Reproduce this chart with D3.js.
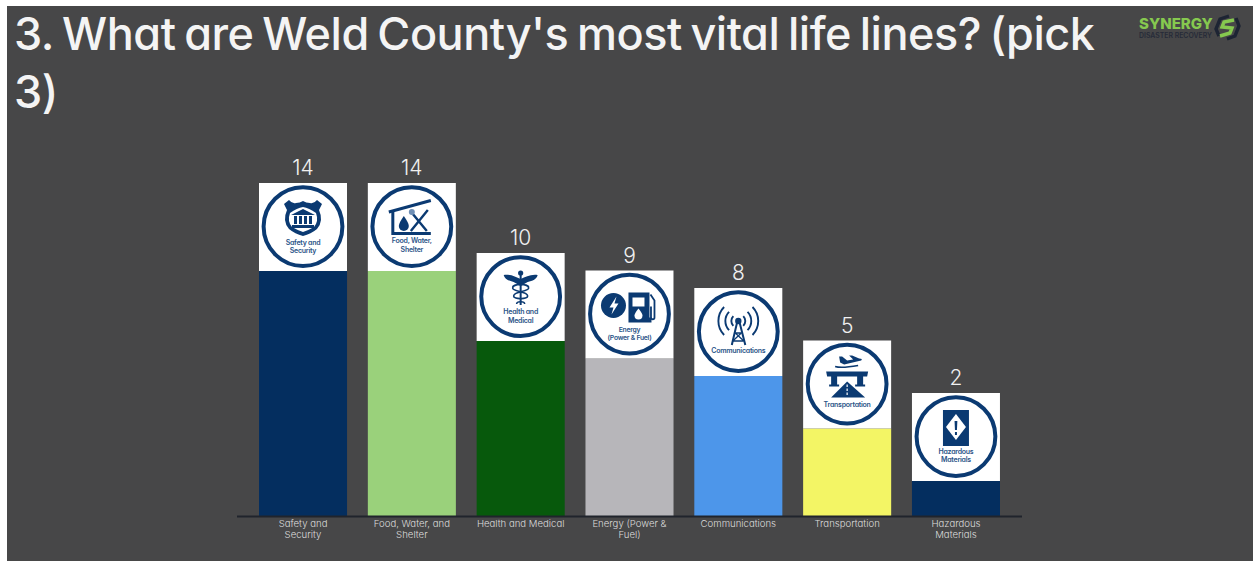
<!DOCTYPE html>
<html>
<head>
<meta charset="utf-8">
<script src="https://cdn.jsdelivr.net/npm/d3@7"></script>
<style>
html,body{margin:0;padding:0;background:#fff}
svg{display:block}
text{font-family:Inter,"Noto Sans",sans-serif;font-feature-settings:"cv11" 1}
</style>
</head>
<body>
<div id="chart"></div>
<script>
// Poll results
const titleLines = ["3. What are Weld County's most vital life lines? (pick", "3)"];
const categories = ["Safety and Security", "Food, Water, and Shelter", "Health and Medical", "Energy (Power & Fuel)", "Communications", "Transportation", "Hazardous Materials"];
const categoryLines = [["Safety and", "Security"], ["Food, Water, and", "Shelter"], ["Health and Medical"], ["Energy (Power &", "Fuel)"], ["Communications"], ["Transportation"], ["Hazardous", "Materials"]];
const values = [14, 14, 10, 9, 8, 5, 2];
const barColors = ["#042e5f", "#9ad17b", "#07590c", "#b7b6ba", "#4d96ea", "#f3f565", "#042e5f"];
const iconCaptions = [["Safety and", "Security"], ["Food, Water,", "Shelter"], ["Health and", "Medical"], ["Energy", "(Power & Fuel)"], ["Communications"], ["Transportation"], ["Hazardous", "Materials"]];

const W = 1253, H = 561, NAVY = "#0b3a72", ICON = 88;

const svg = d3.select("#chart").append("svg").attr("width", W).attr("height", H);
svg.append("rect").attr("x", 7).attr("y", 6).attr("width", W - 7).attr("height", H - 6).attr("fill", "#474748");

svg.append("g").selectAll("text").data(titleLines).join("text")
  .attr("x", 14).attr("y", (d, i) => 50 + i * 58)
  .attr("fill", "#f4f4f4").attr("font-size", 45).attr("font-weight", 500)
  .attr("letter-spacing", -0.45).attr("word-spacing", -3)
  .text(d => d);

// Scales
const x = d3.scaleBand().domain(categories).range([259, 1000]).paddingInner(0.191);
const y = d3.scaleLinear().domain([0, 14]).range([516, 271]);

const bars = svg.append("g").selectAll("g").data(categories).join("g");
bars.append("rect")
  .attr("x", d => x(d)).attr("width", x.bandwidth())
  .attr("y", (d, i) => y(values[i])).attr("height", (d, i) => y(0) - y(values[i]))
  .attr("fill", (d, i) => barColors[i]);

// Value labels sit above the icon tile
bars.append("text")
  .attr("x", d => x(d) + x.bandwidth() / 2)
  .attr("y", (d, i) => y(values[i]) - ICON - 8)
  .attr("text-anchor", "middle").attr("font-size", 21).attr("font-weight", 300).attr("fill", "#f0f0f0")
  .text((d, i) => values[i]);

// Lifeline icon glyphs, drawn in a 88x88 tile
const fillPath = (g, d, c = NAVY) => g.append("path").attr("d", d).attr("fill", c);
const strokePath = (g, d, w, c = NAVY) => g.append("path").attr("d", d).attr("fill", "none").attr("stroke", c).attr("stroke-width", w);

const glyphs = [
  g => { // police shield with courthouse
    fillPath(g, "M30 17 Q33 21 37 20 Q41 20 44 18 Q47 20 51 20 Q55 21 58 17 L63 21 L60 27 Q65 38 58 46 Q52 51 44 53 Q36 51 30 46 Q23 38 28 27 L25 21 Z");
    fillPath(g, "M31 30 Q38 25 44 24 Q50 25 57 30 Q60 38 55 44 Q50 47 44 49 Q38 47 33 44 Q28 38 31 30 Z", "#fff");
    fillPath(g, "M44 26 L56 32 H32 Z M33 42 H55 V45 H33 Z");
    g.append("path").attr("d", "M36.5 33 V41 M41.5 33 V41 M46.5 33 V41 M51.5 33 V41").attr("stroke", NAVY).attr("stroke-width", 3);
  },
  g => { // shelter, droplet and utensils
    strokePath(g, "M21 29 L63 17.5", 3);
    strokePath(g, "M25 28 V50.5 H63", 3);
    fillPath(g, "M36 33 Q41 40 41 43 A5 5 0 0 1 31 43 Q31 40 36 33 Z");
    strokePath(g, "M43 48 L60 27 M45 31 L59 48", 2.4);
    g.append("circle").attr("cx", 44).attr("cy", 29).attr("r", 3).attr("fill", "#6f8fb5");
  },
  g => { // caduceus
    fillPath(g, "M44 26 C49 24 54 21 61 22 C60 26 56 28 51 29 L44 33 L37 29 C32 28 28 26 27 22 C34 21 39 24 44 26 Z");
    g.append("circle").attr("cx", 44).attr("cy", 20).attr("r", 2.6).attr("fill", NAVY);
    strokePath(g, "M44 20 V52", 2);
    strokePath(g, "M36 34 C36 30 52 31 52 35 C52 39 37 38 37 43 C37 47 51 46 51 43 M52 34 C52 30 36 31 36 35 C36 39 51 38 51 43 C51 47 37 46 37 43 M40 51 C40 48 48 48 48 51", 1.6);
  },
  g => { // power bolt and fuel pump
    g.append("circle").attr("cx", 28).attr("cy", 35).attr("r", 12.5).attr("fill", NAVY);
    fillPath(g, "M31 26 L24 37 H28 L26 44 L33 33 H29 Z", "#fff");
    fillPath(g, "M43 22 H64 V47 H66 V52 H43 Z");
    fillPath(g, "M47 27 H59 V36 H47 Z", "#fff");
    fillPath(g, "M53 38 Q57 43 57 45 A4 4 0 0 1 49 45 Q49 43 53 38 Z", "#fff");
    strokePath(g, "M65 24 L69 30 V47 A1.7 1.7 0 0 1 65.5 47 V36", 1.8);
  },
  g => { // radio mast with signal arcs
    strokePath(g, "M43.6 31 L37.5 57 M44.4 31 L51 57", 2);
    strokePath(g, "M40.5 45 H47.5 M38.5 53 H49.5 M41 45 L49.5 53 M47 45 L38.5 53", 1.3);
    g.append("circle").attr("cx", 44).attr("cy", 33).attr("r", 3.2).attr("fill", NAVY);
    [7, 13, 20].forEach(r => {
      const a = r * 0.71, b = r * 0.7;
      strokePath(g, `M${44 - a} ${33 - b} A${r} ${r} 0 0 0 ${44 - a} ${33 + b} M${44 + a} ${33 - b} A${r} ${r} 0 0 1 ${44 + a} ${33 + b}`, 1.9);
    });
  },
  g => { // aeroplane over an overpass and road
    fillPath(g, "M36 16 L39 16 L44 20 L50 19 L46 15 L49 15 L56 18 Q60 18 58 20 L41 24 L37 22 Z");
    strokePath(g, "M32 26 Q38 28 55 25", 1.6);
    fillPath(g, "M23 31 H65 L64 36 H60 V44 H62 V46 H52 V44 H54 V36 H34 V44 H36 V46 H26 V44 H28 V36 H24 Z");
    fillPath(g, "M44 41 L62 57 H28 Z");
    g.append("path").attr("d", "M44 44 V56").attr("stroke", "#fff").attr("stroke-width", 1.2).attr("stroke-dasharray", "2.5 1.5");
  },
  g => { // drum with hazard diamond
    fillPath(g, "M31 17 H57 V53 H31 Z");
    fillPath(g, "M44 21 L54 34 L44 47 L34 34 Z", "#fff");
    fillPath(g, "M42.6 28 H45.4 L45 37 H43 Z M43 39 H45 V42 H43 Z");
  }
];
// Caption baselines per icon
const captionY = [[61.5, 69.5], [60, 68.5], [61, 69.5], [61, 69], [65], [66], [60.5, 69]];

const tiles = bars.append("g")
  .attr("transform", (d, i) => `translate(${x(d)},${y(values[i]) - ICON})`);
tiles.append("rect").attr("width", ICON).attr("height", ICON).attr("fill", "#fff");
tiles.append("circle").attr("cx", 44).attr("cy", 43.6).attr("r", 39.4)
  .attr("fill", "none").attr("stroke", NAVY).attr("stroke-width", 4);
tiles.each(function (d, i) {
  const g = d3.select(this);
  glyphs[i](g);
  g.selectAll("text.cap").data(iconCaptions[i]).join("text").attr("class", "cap")
    .attr("x", 44).attr("y", (t, k) => captionY[i][k])
    .attr("text-anchor", "middle").attr("font-size", i === 3 ? 6.8 : 7).attr("font-weight", 600)
    .attr("letter-spacing", -0.25).attr("fill", "#2b5488").text(t => t);
});

// Category axis
const axis = svg.append("g").attr("transform", `translate(0,${y(0)})`)
  .call(d3.axisBottom(x).tickSize(0).tickFormat(() => ""));
axis.select(".domain").remove();
axis.selectAll(".tick text").remove();
axis.append("line")
  .attr("x1", x.range()[0] - 22).attr("x2", x.range()[1] + 22).attr("y1", 0.5).attr("y2", 0.5)
  .attr("stroke", "#20242c").attr("stroke-width", 2);
axis.selectAll(".tick").each(function (d, i) {
  d3.select(this).selectAll("text.lab").data(categoryLines[i]).join("text").attr("class", "lab")
    .attr("y", (t, k) => 11 + k * 11)
    .attr("text-anchor", "middle").attr("font-size", 9.6).attr("font-weight", 300)
    .attr("fill", "#dcdcdc").text(t => t);
});

// Company mark
const logo = svg.append("g");
logo.append("text").attr("x", 1139).attr("y", 29).attr("font-size", 15).attr("font-weight", 800)
  .attr("fill", "#86c94f").text("SYNERGY");
logo.append("text").attr("x", 1139).attr("y", 38).attr("font-size", 6.9).attr("font-weight", 600)
  .attr("fill", "#262b38").text("DISASTER RECOVERY");
const mark = logo.append("g").attr("transform", "translate(-2,0)");
strokePath(mark, "M1231 16 L1222 19 L1218 29 L1221 36", 3.4, "#1d2433");
strokePath(mark, "M1229 39 L1237 36 L1241 26 L1238 18", 3.4, "#1d2433");
strokePath(mark, "M1236 20 L1226 22 L1224 27 L1234 28 L1232 33 L1222 36", 3.4, "#86c94f");
</script>
</body>
</html>
